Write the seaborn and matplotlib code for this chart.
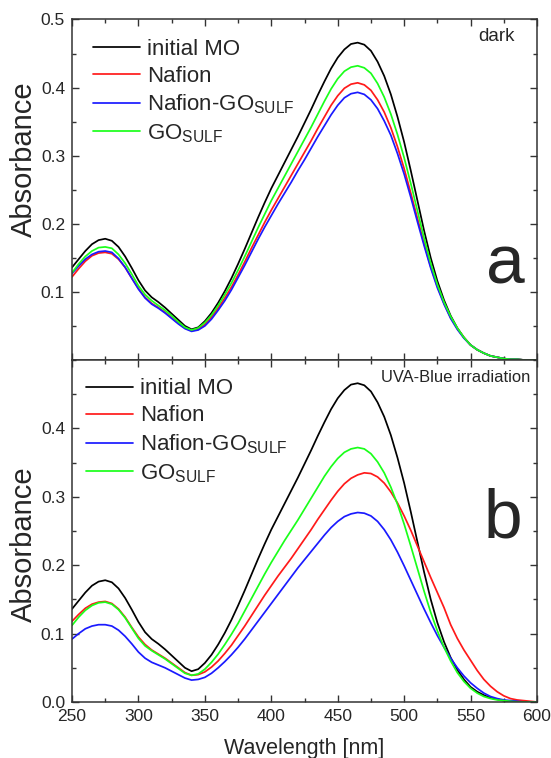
import numpy as np
import pandas as pd
import matplotlib
matplotlib.use("Agg")
import matplotlib.pyplot as plt
import seaborn as sns
from matplotlib.ticker import MultipleLocator, FixedLocator

# ---------------- data (5 nm steps) ----------------
wavelength = list(range(250, 601, 5))

initial_mo = [0.136, 0.148, 0.160, 0.170, 0.176, 0.178, 0.175, 0.166, 0.152, 0.135,
              0.117, 0.102, 0.092, 0.085, 0.077, 0.068, 0.059, 0.050, 0.045, 0.048,
              0.057, 0.069, 0.084, 0.101, 0.120, 0.141, 0.163, 0.186, 0.209, 0.231,
              0.252, 0.271, 0.290, 0.309, 0.328, 0.348, 0.368, 0.389, 0.409, 0.428,
              0.444, 0.456, 0.464, 0.466, 0.463, 0.454, 0.438, 0.417, 0.390, 0.357,
              0.320, 0.278, 0.234, 0.190, 0.150, 0.116, 0.088, 0.065, 0.047, 0.033,
              0.022, 0.015, 0.010, 0.006, 0.004, 0.002, 0.001, 0.001, 0.000, 0.000,
              0.000]

# panel a (dark)
dark_nafion = [0.122, 0.134, 0.145, 0.153, 0.157, 0.158, 0.156, 0.148, 0.136, 0.120,
               0.105, 0.092, 0.083, 0.077, 0.070, 0.062, 0.054, 0.047, 0.043, 0.045,
               0.052, 0.063, 0.076, 0.091, 0.107, 0.125, 0.144, 0.164, 0.183, 0.202,
               0.220, 0.237, 0.254, 0.271, 0.288, 0.305, 0.322, 0.340, 0.357, 0.374,
               0.388, 0.399, 0.405, 0.407, 0.404, 0.396, 0.382, 0.364, 0.341, 0.313,
               0.281, 0.245, 0.208, 0.171, 0.137, 0.108, 0.083, 0.062, 0.046, 0.033,
               0.022, 0.015, 0.010, 0.006, 0.004, 0.002, 0.001, 0.001, 0.000, 0.000,
               0.000]
dark_nafion_go = [0.127, 0.138, 0.148, 0.155, 0.159, 0.160, 0.158, 0.149, 0.136, 0.120,
                  0.104, 0.091, 0.082, 0.076, 0.069, 0.061, 0.053, 0.046, 0.042, 0.044,
                  0.050, 0.060, 0.073, 0.087, 0.103, 0.121, 0.139, 0.158, 0.177, 0.195,
                  0.212, 0.229, 0.245, 0.261, 0.278, 0.294, 0.311, 0.328, 0.344, 0.360,
                  0.374, 0.385, 0.391, 0.393, 0.390, 0.382, 0.369, 0.351, 0.330, 0.303,
                  0.273, 0.239, 0.203, 0.168, 0.135, 0.106, 0.082, 0.061, 0.045, 0.032,
                  0.022, 0.015, 0.010, 0.006, 0.004, 0.002, 0.001, 0.001, 0.000, 0.000,
                  0.000]
dark_go = [0.128, 0.141, 0.152, 0.160, 0.165, 0.166, 0.164, 0.155, 0.142, 0.126,
           0.109, 0.096, 0.087, 0.080, 0.073, 0.065, 0.056, 0.048, 0.044, 0.047,
           0.055, 0.066, 0.080, 0.096, 0.113, 0.132, 0.152, 0.173, 0.194, 0.214,
           0.234, 0.252, 0.270, 0.288, 0.306, 0.324, 0.342, 0.361, 0.380, 0.398,
           0.413, 0.424, 0.430, 0.432, 0.429, 0.421, 0.406, 0.386, 0.361, 0.331,
           0.297, 0.259, 0.219, 0.179, 0.142, 0.111, 0.085, 0.064, 0.047, 0.033,
           0.022, 0.015, 0.010, 0.006, 0.004, 0.002, 0.001, 0.001, 0.000, 0.000,
           0.000]

# panel b (UVA-Blue irradiation)
uv_nafion = [0.118, 0.128, 0.137, 0.143, 0.146, 0.147, 0.144, 0.136, 0.124, 0.109,
             0.095, 0.084, 0.076, 0.070, 0.064, 0.057, 0.050, 0.043, 0.039, 0.040,
             0.044, 0.051, 0.060, 0.071, 0.083, 0.097, 0.111, 0.126, 0.141, 0.156,
             0.170, 0.184, 0.197, 0.210, 0.224, 0.238, 0.252, 0.267, 0.281, 0.295,
             0.308, 0.319, 0.327, 0.332, 0.335, 0.334, 0.329, 0.320, 0.307, 0.291,
             0.272, 0.251, 0.228, 0.205, 0.182, 0.160, 0.138, 0.113, 0.093, 0.076,
             0.061, 0.046, 0.033, 0.023, 0.015, 0.009, 0.005, 0.003, 0.002, 0.001,
             0.000]
uv_nafion_go = [0.092, 0.100, 0.107, 0.111, 0.113, 0.113, 0.111, 0.105, 0.096, 0.085,
                0.073, 0.064, 0.058, 0.054, 0.050, 0.045, 0.040, 0.035, 0.032, 0.033,
                0.036, 0.042, 0.050, 0.059, 0.069, 0.080, 0.092, 0.105, 0.118, 0.131,
                0.144, 0.157, 0.170, 0.183, 0.196, 0.208, 0.220, 0.232, 0.244, 0.255,
                0.264, 0.271, 0.275, 0.277, 0.276, 0.272, 0.264, 0.252, 0.237, 0.219,
                0.199, 0.178, 0.157, 0.136, 0.116, 0.097, 0.080, 0.064, 0.050, 0.038,
                0.028, 0.020, 0.013, 0.008, 0.005, 0.003, 0.002, 0.001, 0.000, 0.000,
                0.000]
uv_go = [0.112, 0.124, 0.134, 0.141, 0.145, 0.146, 0.143, 0.135, 0.123, 0.108,
         0.093, 0.082, 0.075, 0.069, 0.063, 0.056, 0.049, 0.042, 0.039, 0.041,
         0.048, 0.058, 0.070, 0.084, 0.099, 0.115, 0.133, 0.151, 0.169, 0.187,
         0.204, 0.220, 0.236, 0.251, 0.266, 0.282, 0.298, 0.314, 0.330, 0.344,
         0.356, 0.365, 0.370, 0.372, 0.370, 0.363, 0.351, 0.335, 0.314, 0.289,
         0.260, 0.228, 0.195, 0.162, 0.131, 0.104, 0.080, 0.060, 0.043, 0.030,
         0.020, 0.013, 0.008, 0.005, 0.003, 0.002, 0.001, 0.000, 0.000, 0.000,
         0.000]

series_labels = ["initial MO", "Nafion", r"Nafion-GO$_{\mathrm{SULF}}$", r"GO$_{\mathrm{SULF}}$"]
series_colors = ["#000000", "#ff1a1a", "#1a1aff", "#1aff1a"]

x_ticks = [250, 300, 350, 400, 450, 500, 550, 600]
y_ticks_top = [0.1, 0.2, 0.3, 0.4, 0.5]
y_ticks_bottom = [0.0, 0.1, 0.2, 0.3, 0.4]

# ---------------- style ----------------
sns.set_style("ticks")
plt.rcParams["font.family"] = ["Liberation Sans", "DejaVu Sans"]
plt.rcParams["mathtext.fontset"] = "custom"
plt.rcParams["mathtext.rm"] = "Liberation Sans"
plt.rcParams["mathtext.it"] = "Liberation Sans:italic"
plt.rcParams["mathtext.bf"] = "Liberation Sans:bold"
plt.rcParams["axes.linewidth"] = 1.1
plt.rcParams["axes.edgecolor"] = "#333333"

fig = plt.figure(figsize=(5.51, 7.58), dpi=100)
ax_top = fig.add_axes([0.1307, 0.5251, 0.8439, 0.4492])
ax_bot = fig.add_axes([0.1307, 0.0739, 0.8439, 0.4512])

def draw(ax, ys):
    for y, lab, col in zip(ys, series_labels, series_colors):
        df = pd.DataFrame({"Wavelength": wavelength, "Absorbance": y})
        sns.lineplot(data=df, x="Wavelength", y="Absorbance", ax=ax, color=col,
                     label=lab, linewidth=1.25, estimator=None, sort=True)
    ax.set_xlim(250, 600)
    ax.set_ylim(0, 0.5)
    ax.xaxis.set_major_locator(FixedLocator(x_ticks))
    ax.xaxis.set_minor_locator(MultipleLocator(25))
    ax.yaxis.set_minor_locator(MultipleLocator(0.05))
    ax.tick_params(which="both", direction="in", top=True, right=True,
                   bottom=True, left=True, color="#333333", width=1.0)
    ax.tick_params(which="major", length=5, labelsize=12.5, pad=5)
    ax.tick_params(which="minor", length=3)
    ax.set_ylabel("Absorbance", fontsize=21)

draw(ax_top, [initial_mo, dark_nafion, dark_nafion_go, dark_go])
draw(ax_bot, [initial_mo, uv_nafion, uv_nafion_go, uv_go])

ax_top.set_yticks(y_ticks_top)
ax_top.set_yticklabels([f"{v:.1f}" for v in y_ticks_top])
ax_top.tick_params(labelbottom=False)
ax_top.set_xlabel("")
ax_bot.set_yticks(y_ticks_bottom)
ax_bot.set_yticklabels([f"{v:.1f}" for v in y_ticks_bottom])
ax_bot.set_xticks(x_ticks)
ax_bot.set_xticklabels([str(v) for v in x_ticks])
ax_bot.set_xlabel("Wavelength [nm]", fontsize=15.5, labelpad=10)

ax_top.yaxis.set_label_coords(-0.073, 0.59)
ax_bot.yaxis.set_label_coords(-0.073, 0.46)

leg_kw = dict(loc="upper left", frameon=False, fontsize=16, handlelength=2.1,
              handletextpad=0.35, labelspacing=0.27, borderaxespad=0, borderpad=0)
ax_top.legend(bbox_to_anchor=(0.045, 0.944), **leg_kw)
ax_bot.legend(bbox_to_anchor=(0.03, 0.946), **leg_kw)

ax_top.text(0.953, 0.949, "dark", transform=ax_top.transAxes, ha="right", va="center",
            fontsize=13.5)
ax_bot.text(0.985, 0.950, "UVA-Blue irradiation", transform=ax_bot.transAxes,
            ha="right", va="center", fontsize=11.9)
ax_top.text(0.931, 0.226, "a", transform=ax_top.transAxes, ha="center",
            va="baseline", fontsize=50)
ax_bot.text(0.927, 0.482, "b", transform=ax_bot.transAxes, ha="center",
            va="baseline", fontsize=50)

fig.savefig("out.png", dpi=100)
